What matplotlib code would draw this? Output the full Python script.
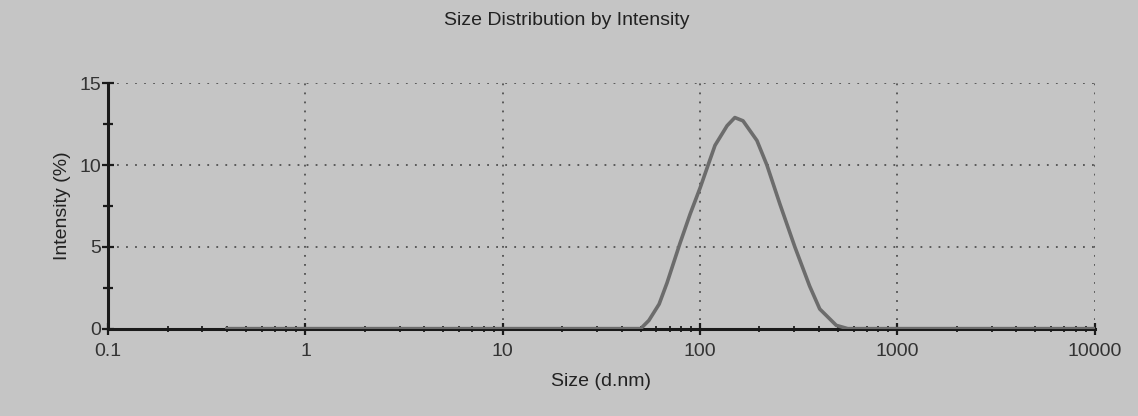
import numpy as np
import matplotlib.pyplot as plt
from matplotlib.ticker import FixedLocator, LogLocator, NullFormatter

plt.rcParams['font.family'] = ['Liberation Sans', 'DejaVu Sans']

# size (d.nm) and intensity (%)
size_nm = [0.4, 50, 55, 62, 68, 79, 89, 100, 119, 137, 150, 165, 194, 218, 254, 302, 359, 404, 490, 560, 10000]
intensity = [0, 0, 0.5, 1.5, 2.8, 5.2, 7.0, 8.6, 11.2, 12.4, 12.9, 12.7, 11.5, 10.0, 7.6, 5.0, 2.6, 1.2, 0.2, 0, 0]

x_ticks = [0.1, 1, 10, 100, 1000, 10000]
x_tick_labels = ['0.1', '1', '10', '100', '1000', '10000']
y_ticks = [0, 5, 10, 15]

bg = '#c5c5c5'
fig = plt.figure(figsize=(11.38, 4.16), dpi=100, facecolor=bg)
ax = fig.add_axes([0.095, 0.21, 0.867, 0.59], facecolor=bg)

ax.plot(size_nm, intensity, color='#6c6c6c', lw=2.6, solid_joinstyle='round', zorder=3)

ax.set_xscale('log')
ax.set_xlim(0.1, 10000)
ax.set_ylim(0, 15)
ax.set_xticks(x_ticks)
ax.set_xticklabels(x_tick_labels)
ax.xaxis.set_minor_locator(LogLocator(base=10, subs=np.arange(2, 10)))
ax.xaxis.set_minor_formatter(NullFormatter())
ax.set_yticks(y_ticks)
ax.yaxis.set_minor_locator(FixedLocator([2.5, 7.5, 12.5]))

ax.grid(True, which='major', color='#505050', linestyle=(0, (1, 4)), lw=1.3)
ax.set_axisbelow(True)

for side in ['top', 'right']:
    ax.spines[side].set_visible(False)
for side in ['left', 'bottom']:
    ax.spines[side].set_linewidth(2.2)
    ax.spines[side].set_color('#1a1a1a')
    ax.spines[side].set_zorder(2)

ax.tick_params(axis='both', which='major', direction='inout', length=8, width=1.6,
               colors='#1a1a1a', labelsize=14, labelcolor='#333333')
ax.tick_params(axis='y', which='minor', direction='inout', length=7, width=1.6, colors='#1a1a1a')
ax.tick_params(axis='x', which='minor', direction='inout', length=4, width=1.4, colors='#2a2a2a')
ax.tick_params(axis='x', which='major', pad=6)
ax.tick_params(axis='y', which='major', pad=1)

ax.set_title('Size Distribution by Intensity', fontsize=14, color='#222222', pad=42, x=0.465)
ax.set_xlabel('Size (d.nm)', fontsize=14, color='#222222', labelpad=10)
ax.set_ylabel('Intensity (%)', fontsize=14, color='#222222', labelpad=6)

fig.savefig('out.png', dpi=100, facecolor=bg)
